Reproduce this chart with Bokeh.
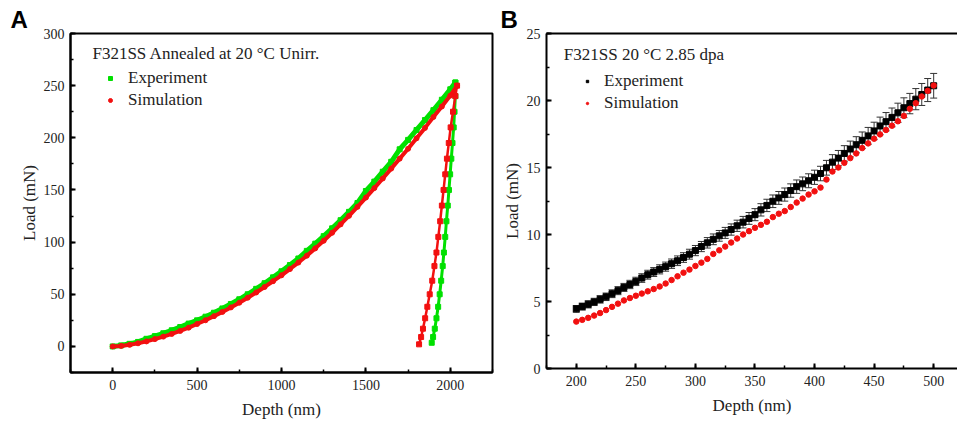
from bokeh.plotting import figure
from bokeh.layouts import row
from bokeh.models import (ColumnDataSource, Range1d, Legend, LegendItem, Label,
                          Whisker, TeeHead, LinearAxis, FixedTicker, SingleIntervalTicker)
from bokeh.embed import file_html
from bokeh.resources import INLINE

# ---------------- Panel A data (F321SS annealed, unirradiated) ----------------
a_exp_load_depth = [0, 50, 100, 150, 200, 250, 300, 350, 400, 450, 500, 550, 600, 650,
                    700, 750, 800, 850, 900, 950, 1000, 1050, 1100, 1150, 1200, 1250,
                    1300, 1350, 1400, 1450, 1500, 1550, 1600, 1650, 1700, 1750, 1800,
                    1850, 1900, 1950, 2000, 2030]
a_exp_load = [0, 1.0, 2.5, 4.3, 7.3, 9.9, 12.6, 15.5, 18.6, 21.9, 25.0, 28.5, 32.3, 36.4,
              40.7, 45.2, 50.0, 55.2, 60.6, 66.2, 72.0, 78.0, 84.3, 91.6, 98.5, 105.7,
              113.2, 121.0, 129.0, 137.5, 149.0, 158.0, 167.5, 177.0, 189.0, 198.0, 207.5,
              217.0, 226.5, 236.5, 246.5, 253.0]
a_sim_load_depth = [0, 50, 100, 150, 200, 250, 300, 350, 400, 450, 500, 550, 600, 650,
                    700, 750, 800, 850, 900, 950, 1000, 1050, 1100, 1150, 1200, 1250,
                    1300, 1350, 1400, 1450, 1500, 1550, 1600, 1650, 1700, 1750, 1800,
                    1850, 1900, 1950, 2000, 2040]
a_sim_load = [0, 0.5, 1.5, 3.0, 4.8, 7.0, 9.4, 12.0, 14.9, 18.0, 21.5, 25.1, 29.0, 33.1,
              37.4, 41.9, 46.7, 51.7, 57.0, 62.5, 68.2, 74.2, 80.4, 87.0, 94.0, 101.3,
              109.0, 117.0, 125.2, 133.8, 142.7, 151.8, 161.0, 170.5, 180.0, 189.5, 199.5,
              209.5, 220.0, 230.0, 240.5, 250.0]
a_exp_unload_depth = [2030, 2030, 2025, 2020, 2013, 2006, 1999, 1992, 1985, 1977, 1970,
                      1962, 1955, 1946, 1937, 1928, 1918, 1908, 1898, 1890]
a_exp_unload = [253, 240, 225, 210, 195, 180, 165, 150, 135, 120, 105, 90, 77, 63, 50,
                38, 27, 17, 9, 3.5]
a_sim_unload_depth = [2040, 2030, 2016, 2002, 1991, 1980, 1970, 1960, 1950, 1940, 1929,
                      1918, 1906, 1893, 1878, 1864, 1851, 1838, 1827, 1815]
a_sim_unload = [250, 240, 225, 210, 195, 180, 165, 150, 135, 120, 105, 90, 77, 63, 50,
                38, 27, 17, 9, 2]

# ---------------- Panel B data (F321SS 20 C 2.85 dpa) ----------------
b_depth = [200, 205, 210, 215, 220, 225, 230, 235, 240, 245, 250, 255, 260, 265, 270,
           275, 280, 285, 290, 295, 300, 305, 310, 315, 320, 325, 330, 335, 340, 345,
           350, 355, 360, 365, 370, 375, 380, 385, 390, 395, 400, 405, 410, 415, 420,
           425, 430, 435, 440, 445, 450, 455, 460, 465, 470, 475, 480, 485, 490, 495, 500]
b_exp_load = [4.45, 4.62, 4.79, 4.97, 5.16, 5.35, 5.58, 5.81, 6.05, 6.27, 6.50, 6.75,
              7.00, 7.20, 7.40, 7.60, 7.82, 8.04, 8.28, 8.53, 8.80, 9.10, 9.38, 9.64,
              9.90, 10.12, 10.37, 10.65, 10.92, 11.20, 11.48, 11.84, 12.17, 12.48, 12.73,
              12.98, 13.28, 13.57, 13.78, 14.01, 14.27, 14.55, 14.98, 15.40, 15.70, 16.05,
              16.38, 16.70, 17.03, 17.36, 17.73, 18.10, 18.42, 18.74, 19.08, 19.46, 19.77,
              20.10, 20.45, 20.78, 21.10]
b_exp_err = [0.25, 0.26, 0.27, 0.27, 0.28, 0.28, 0.29, 0.30, 0.30, 0.31, 0.31, 0.32,
             0.33, 0.33, 0.34, 0.34, 0.35, 0.36, 0.36, 0.37, 0.38, 0.38, 0.39, 0.40,
             0.40, 0.41, 0.42, 0.42, 0.43, 0.44, 0.45, 0.46, 0.46, 0.47, 0.48, 0.49,
             0.50, 0.50, 0.51, 0.52, 0.53, 0.54, 0.55, 0.56, 0.57, 0.58, 0.59, 0.60,
             0.62, 0.63, 0.65, 0.66, 0.68, 0.70, 0.72, 0.74, 0.76, 0.79, 0.82, 0.86, 0.92]
b_sim_load = [3.50, 3.63, 3.78, 3.95, 4.14, 4.36, 4.60, 4.84, 5.08, 5.26, 5.43, 5.59,
              5.76, 5.93, 6.12, 6.34, 6.60, 6.88, 7.15, 7.38, 7.65, 7.90, 8.18, 8.55,
              8.82, 9.10, 9.40, 9.70, 10.00, 10.25, 10.50, 10.72, 10.95, 11.30, 11.55,
              11.75, 12.05, 12.38, 12.68, 12.98, 13.22, 13.50, 14.10, 14.70, 15.00, 15.35,
              15.70, 16.05, 16.45, 16.80, 17.15, 17.47, 17.80, 18.12, 18.45, 18.85, 19.38,
              19.80, 20.30, 20.72, 21.12]

a_title = "F321SS Annealed at 20 \u00b0C Unirr."
b_title = "F321SS 20 \u00b0C 2.85 dpa"
x_label = "Depth (nm)"
y_label = "Load (mN)"
series_names = ["Experiment", "Simulation"]
panel_letters = ["A", "B"]

GREEN = "#00e000"
RED = "#f21010"
SERIF = "Liberation Serif"
SANS = "Liberation Sans"


def style_axes(p, xint, yint, xlabel_standoff):
    p.xgrid.visible = False
    p.ygrid.visible = False
    p.xaxis.ticker = SingleIntervalTicker(interval=xint, num_minor_ticks=2)
    p.yaxis.ticker = SingleIntervalTicker(interval=yint, num_minor_ticks=2)
    for ax in (p.xaxis[0], p.yaxis[0]):
        ax.axis_line_width = 2
        ax.axis_line_color = "black"
        ax.major_tick_in = 5
        ax.major_tick_out = 0
        ax.minor_tick_in = 3
        ax.minor_tick_out = 0
        ax.major_tick_line_width = 2
        ax.minor_tick_line_width = 1.5
        ax.major_label_text_font = SERIF
        ax.major_label_text_font_size = "14px"
        ax.major_label_text_color = "#222222"
        ax.axis_label_text_font = SERIF
        ax.axis_label_text_font_size = "17px"
        ax.axis_label_text_font_style = "normal"
        ax.axis_label_text_color = "#222222"
    p.xaxis.axis_label = x_label
    p.yaxis.axis_label = y_label
    p.xaxis.major_label_standoff = 7
    p.xaxis.axis_label_standoff = xlabel_standoff
    p.yaxis.major_label_standoff = 6
    p.yaxis.axis_label_standoff = 2


def style_letter(p, letter, offset):
    p.title.text = letter
    p.title.align = "left"
    p.title.offset = offset
    p.title.standoff = 2
    p.title.text_font = SANS
    p.title.text_font_style = "bold"
    p.title.text_font_size = "24px"
    p.title.text_color = "black"


# ---------------- Panel A ----------------
pA = figure(width=498, height=421, x_range=Range1d(-250, 2250), y_range=Range1d(-25, 300),
            min_border_left=70, min_border_right=6, min_border_top=33, min_border_bottom=48,
            output_backend="svg", toolbar_location=None)
pA.outline_line_color = "black"
pA.outline_line_width = 2
style_axes(pA, 500, 50, 7)
style_letter(pA, panel_letters[0], -60)

srcA_el = ColumnDataSource(dict(x=a_exp_load_depth, y=a_exp_load))
srcA_sl = ColumnDataSource(dict(x=a_sim_load_depth, y=a_sim_load))
srcA_eu = ColumnDataSource(dict(x=a_exp_unload_depth, y=a_exp_unload))
srcA_su = ColumnDataSource(dict(x=a_sim_unload_depth, y=a_sim_unload))

pA.line("x", "y", source=srcA_el, line_color=GREEN, line_width=5)
rA_exp = pA.scatter("x", "y", source=srcA_el, marker="square", size=5, color=GREEN)
pA.line("x", "y", source=srcA_eu, line_color=GREEN, line_width=3)
pA.scatter("x", "y", source=srcA_eu, marker="square", size=5, color=GREEN)

pA.line("x", "y", source=srcA_sl, line_color=RED, line_width=4)
rA_sim = pA.scatter("x", "y", source=srcA_sl, marker="circle", size=5, color=RED)
pA.line("x", "y", source=srcA_su, line_color=RED, line_width=2.5)
pA.scatter("x", "y", source=srcA_su, marker="square", size=5, color=RED)

legA = Legend(items=[LegendItem(label=series_names[0], renderers=[rA_exp]),
                     LegendItem(label=series_names[1], renderers=[rA_sim])],
              location="top_left", margin=35, padding=0, glyph_width=10, glyph_height=20,
              label_height=20, label_standoff=13, spacing=2,
              label_text_font=SERIF, label_text_font_size="17px", label_text_color="#222222",
              border_line_color=None, background_fill_alpha=0)
pA.add_layout(legA)
pA.add_layout(Label(x=-120, y=281, text=a_title, text_font=SERIF, text_font_size="17px",
                    text_color="#222222", text_baseline="middle"))

# ---------------- Panel B ----------------
pB = figure(width=459, height=417, x_range=Range1d(175, 520), y_range=Range1d(0, 25),
            min_border_left=48, min_border_right=0, min_border_top=33, min_border_bottom=48,
            output_backend="svg", toolbar_location=None)
pB.outline_line_color = None
style_axes(pB, 50, 5, 7)
style_letter(pB, panel_letters[1], -46)
top_axis = LinearAxis(ticker=FixedTicker(ticks=[]), axis_line_width=2, axis_line_color="black",
                      major_label_text_font_size="0px", major_tick_in=0, major_tick_out=0,
                      minor_tick_in=0, minor_tick_out=0)
pB.add_layout(top_axis, "above")

b_upper = [v + e for v, e in zip(b_exp_load, b_exp_err)]
b_lower = [v - e for v, e in zip(b_exp_load, b_exp_err)]
srcB_e = ColumnDataSource(dict(x=b_depth, y=b_exp_load, upper=b_upper, lower=b_lower))
srcB_s = ColumnDataSource(dict(x=b_depth, y=b_sim_load))

pB.add_layout(Whisker(base="x", upper="upper", lower="lower", source=srcB_e,
                      line_color="#333333", line_width=1,
                      upper_head=TeeHead(size=7, line_color="#333333", line_width=1),
                      lower_head=TeeHead(size=7, line_color="#333333", line_width=1)))
rB_exp = pB.scatter("x", "y", source=srcB_e, marker="square", size=6, color="black")
rB_sim = pB.scatter("x", "y", source=srcB_s, marker="circle", size=5.5, color=RED)

legB = Legend(items=[LegendItem(label=series_names[0], renderers=[rB_exp]),
                     LegendItem(label=series_names[1], renderers=[rB_sim])],
              location="top_left", margin=38, padding=0, glyph_width=6, glyph_height=20,
              label_height=20, label_standoff=14, spacing=2,
              label_text_font=SERIF, label_text_font_size="17px", label_text_color="#222222",
              border_line_color=None, background_fill_alpha=0)
pB.add_layout(legB)
pB.add_layout(Label(x=189.5, y=23.45, text=b_title, text_font=SERIF, text_font_size="17px",
                    text_color="#222222", text_baseline="middle"))

layout = row(pA, pB)
open("out.html", "w").write(file_html(layout, INLINE))
